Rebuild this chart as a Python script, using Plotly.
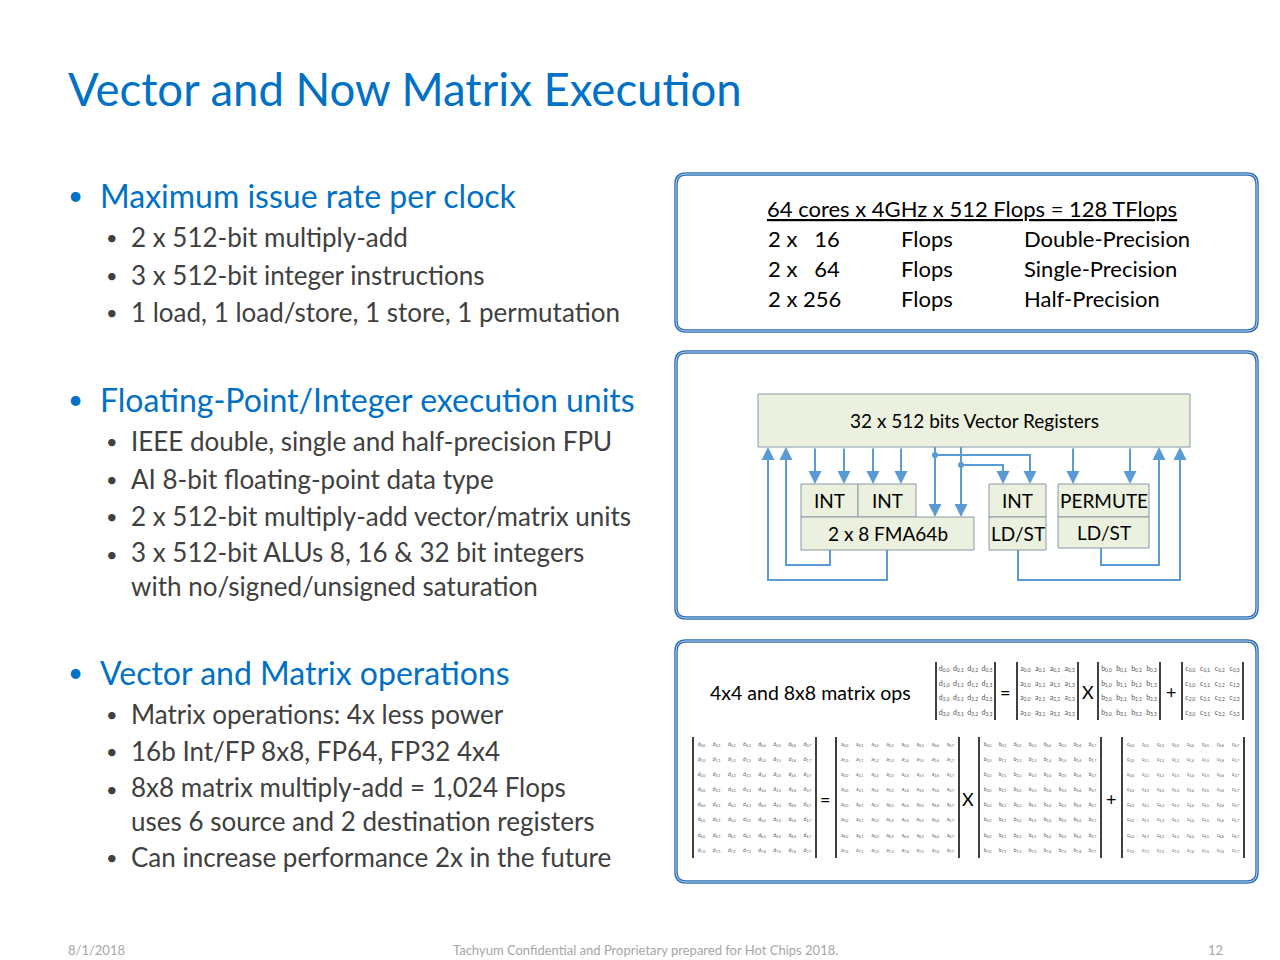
'''
slide: vector and now matrix execution
'''

import numpy as np
import plotly.graph_objects as go

TITLE = "Vector and Now Matrix Execution"
SECTIONS = [
    ("Maximum issue rate per clock",
     ["2 x 512-bit multiply-add", "3 x 512-bit integer instructions",
      "1 load, 1 load/store, 1 store, 1 permutation"]),
    ("Floating-Point/Integer execution units",
     ["IEEE double, single and half-precision FPU", "AI 8-bit floating-point data type",
      "2 x 512-bit multiply-add vector/matrix units",
      "3 x 512-bit ALUs 8, 16 & 32 bit integers<br>with no/signed/unsigned saturation"]),
    ("Vector and Matrix operations",
     ["Matrix operations: 4x less power", "16b Int/FP 8x8, FP64, FP32 4x4",
      "8x8 matrix multiply-add = 1,024 Flops<br>uses 6 source and 2 destination registers",
      "Can increase performance 2x in the future"]),
]
FLOPS_HEADER = "64 cores x 4GHz x 512 Flops = 128 TFlops"
FLOPS_COUNT = ["2 x   16", "2 x   64", "2 x 256"]
FLOPS_UNIT = ["Flops", "Flops", "Flops"]
FLOPS_PREC = ["Double-Precision", "Single-Precision", "Half-Precision"]
MATRIX_NAMES = ["d", "a", "b", "c"]
MATRIX_OPS = ["=", "X", "+"]
FOOTER = ["8/1/2018", "Tachyum Confidential and Proprietary prepared for Hot Chips 2018.", "12"]

BLUE = "#0071c5"
GREY = "#404040"
ARROW = "#5b9bd5"
FONT = "Lato"

fig = go.Figure()
shapes = []
ann = []


def text(x, y, s, size, color="black", anchor="left", **kw):
    ann.append(dict(x=x, y=y, text=s, showarrow=False, xanchor=anchor, yanchor="middle",
                    font=dict(family=FONT, size=size, color=color), **kw))


def rbox(x0, y0, x1, y1, r=10):
    p = (f"M{x0+r},{y0} L{x1-r},{y0} Q{x1},{y0} {x1},{y0+r} L{x1},{y1-r} Q{x1},{y1} {x1-r},{y1} "
         f"L{x0+r},{y1} Q{x0},{y1} {x0},{y1-r} L{x0},{y0+r} Q{x0},{y0} {x0+r},{y0} Z")
    shapes.append(dict(type="path", path=p, line=dict(color="#2f6eb5", width=3.5)))
    shapes.append(dict(type="path", path=p, line=dict(color="#bcd3ec", width=1)))


def box(x0, y0, x1, y1, label, size=19):
    shapes.append(dict(type="rect", x0=x0, y0=y0, x1=x1, y1=y1,
                       fillcolor="#ebf1de", line=dict(color="#8a9aa6", width=1)))
    text((x0 + x1) / 2, (y0 + y1) / 2, label, size, anchor="center")


def line(pts):
    p = "M" + " L".join(f"{x},{y}" for x, y in pts)
    shapes.append(dict(type="path", path=p, line=dict(color=ARROW, width=2)))


def arrow(x, y0, y1):
    ann.append(dict(x=x, y=y1, ax=x, ay=y0, axref="x", ayref="y", xref="x", yref="y",
                    text="", showarrow=True, arrowhead=2, arrowsize=1.3, arrowwidth=2,
                    arrowcolor=ARROW))


# title and bullets
text(66, 88, TITLE, 45.5, BLUE)
ys = [(195, [237, 275, 312]), (399, [441, 479, 516, 569]), (672, [714, 751, 804, 857])]
for (head, items), (hy, iys) in zip(SECTIONS, ys):
    text(66, hy, "•", 26, BLUE)
    text(98, hy, head, 32, BLUE)
    for s, y in zip(items, iys):
        text(104, y - (15 if "<br>" in s else 0), "•", 20, GREY)
        text(129, y, s, 26, GREY, align="left")

# panels
rbox(676, 174, 1257, 331)
rbox(676, 352, 1257, 618)
rbox(676, 641, 1257, 882)

# flops table
text(765, 208, "<u>" + FLOPS_HEADER + "</u>", 22)
for i, y in enumerate([238, 268, 298]):
    text(766, y, FLOPS_COUNT[i], 22)
    text(899, y, FLOPS_UNIT[i], 22)
    text(1022, y, FLOPS_PREC[i], 22)

# execution unit diagram
box(758, 394, 1190, 447, "32 x 512 bits Vector Registers")
box(801, 484, 858, 517, "INT")
box(858, 484, 916, 517, "INT")
box(801, 517, 974, 550, "2 x 8 FMA64b")
box(989, 484, 1046, 517, "INT")
box(989, 517, 1046, 550, "LD/ST")
box(1058, 484, 1149, 517, "PERMUTE")
box(1058, 517, 1149, 548, "LD/ST")
for x in [815, 844, 873, 901, 1073, 1130]:
    arrow(x, 447, 484)
line([(935, 447), (935, 455), (1030, 455), (1030, 478)])
line([(961, 447), (961, 465), (1003, 465), (1003, 478)])
arrow(1030, 470, 484)
arrow(1003, 470, 484)
arrow(935, 447, 517)
arrow(961, 447, 517)
line([(830, 550), (830, 565), (786, 565), (786, 455)])
line([(887, 550), (887, 580), (768, 580), (768, 455)])
line([(1018, 550), (1018, 580), (1180, 580), (1180, 455)])
line([(1101, 548), (1101, 565), (1159, 565), (1159, 455)])
for x in [768, 786, 1159, 1180]:
    arrow(x, 470, 447)
shapes.append(dict(type="circle", x0=932, y0=452, x1=938, y1=458, fillcolor=ARROW, line_width=0))
shapes.append(dict(type="circle", x0=958, y0=462, x1=964, y1=468, fillcolor=ARROW, line_width=0))

# matrices
text(708, 692, "4x4 and 8x8 matrix ops", 19.5)


def matrix(name, n, x0, x1, y0, y1, size):
    xs, ys_, labels = [], [], []
    cx = np.linspace(x0 + (x1 - x0) / (2 * n), x1 - (x1 - x0) / (2 * n), n)
    cy = np.linspace(y0 + (y1 - y0) / (2 * n), y1 - (y1 - y0) / (2 * n), n)
    for i in range(n):
        for j in range(n):
            xs.append(cx[j])
            ys_.append(cy[i])
            labels.append(f"{name}<sub>{i},{j}</sub>")
    fig.add_trace(go.Scatter(x=xs, y=ys_, mode="text", text=labels, hoverinfo="skip",
                             textfont=dict(family=FONT, size=size, color="#555555")))
    for x in [x0 - 1, x1 + 1]:
        shapes.append(dict(type="line", x0=x, x1=x, y0=y0, y1=y1, line=dict(color="black", width=1.5)))


small = [(937, 994), (1018, 1077), (1099, 1159), (1183, 1242)]
big = [(694, 815), (837, 958), (980, 1100), (1123, 1243)]
for name, (a, b) in zip(MATRIX_NAMES, small):
    matrix(name, 4, a, b, 662, 720, 7)
for name, (a, b) in zip(MATRIX_NAMES, big):
    matrix(name, 8, a, b, 737, 858, 5)
for op, x in zip(MATRIX_OPS, [1005, 1088, 1171]):
    text(x, 692, op, 18, anchor="center")
for op, x in zip(MATRIX_OPS, [825, 968, 1111]):
    text(x, 799, op, 18, anchor="center")

# footer
text(66, 950, FOOTER[0], 13, "#a6a6a6")
text(645, 950, FOOTER[1], 13, "#a6a6a6", anchor="center")
text(1225, 950, FOOTER[2], 13, "#a6a6a6", anchor="right")

# page body adds an 8px offset, so the ranges start at 8
fig.update_layout(width=1280, height=960, margin=dict(l=0, r=0, t=0, b=0),
                  plot_bgcolor="white", paper_bgcolor="white", showlegend=False,
                  shapes=shapes, annotations=ann,
                  xaxis=dict(range=[8, 1288], visible=False, fixedrange=True),
                  yaxis=dict(range=[968, 8], visible=False, fixedrange=True))
fig.write_html("out.html", config={"displayModeBar": False})
